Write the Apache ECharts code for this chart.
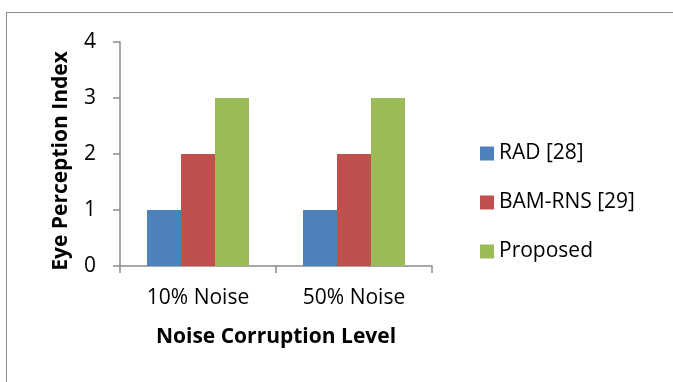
<!DOCTYPE html>
<html>
<head>
<meta charset="utf-8">
<script src="https://cdn.jsdelivr.net/npm/echarts@6/dist/echarts.min.js"></script>
<style>
  html, body { margin: 0; padding: 0; background: #fff; }
  #frame { position: absolute; left: 6px; top: 12px; width: 700px; height: 400px; border: 1px solid #8c8c8c; box-sizing: border-box; }
  #chart { position: absolute; left: 0; top: 0; width: 673px; height: 382px; }
</style>
</head>
<body>
<div id="frame"></div>
<div id="chart"></div>
<script>
const categories = ['10% Noise', '50% Noise'];
const seriesNames = ['RAD [28]', 'BAM-RNS [29]', 'Proposed'];
const radValues = [1, 1];
const bamValues = [2, 2];
const proposedValues = [3, 3];
const yTicks = [0, 1, 2, 3, 4];

const colors = ['#4f81bd', '#c0504d', '#9bbb59'];
const font = '"Open Sans", sans-serif';

const chart = echarts.init(document.getElementById('chart'));
chart.setOption({
  animation: false,
  grid: { left: 120, right: 241, top: 42, bottom: 116 },
  legend: {
    orient: 'vertical',
    left: 475,
    top: 138,
    itemWidth: 14,
    itemHeight: 14,
    itemGap: 28,
    icon: 'rect',
    textStyle: { fontFamily: font, fontSize: 21, color: '#000' },
    data: seriesNames
  },
  xAxis: {
    type: 'category',
    data: categories,
    name: 'Noise Corruption Level',
    nameLocation: 'middle',
    nameGap: 61,
    nameTextStyle: { fontFamily: font, fontSize: 21, fontWeight: 'bold', color: '#000' },
    axisLine: { lineStyle: { color: '#8c8c8c', width: 1.5 } },
    axisTick: { show: true, length: 7, lineStyle: { color: '#8c8c8c', width: 1.5 } },
    axisLabel: { fontFamily: font, fontSize: 21, color: '#000', margin: 22 }
  },
  yAxis: {
    type: 'value',
    min: yTicks[0],
    max: yTicks[yTicks.length - 1],
    interval: 1,
    name: 'Eye Perception Index',
    nameLocation: 'middle',
    nameGap: 48,
    nameTextStyle: { fontFamily: font, fontSize: 21, fontWeight: 'bold', color: '#000', padding: [0, 14, 0, 0] },
    axisLine: { show: true, lineStyle: { color: '#8c8c8c', width: 1.5 } },
    axisTick: { show: true, length: 7, lineStyle: { color: '#8c8c8c', width: 1.5 } },
    splitLine: { show: false },
    axisLabel: { fontFamily: font, fontSize: 21, color: '#000', margin: 24 }
  },
  series: [
    { name: seriesNames[0], type: 'bar', data: radValues, barWidth: 34, barGap: '0%', itemStyle: { color: colors[0] } },
    { name: seriesNames[1], type: 'bar', data: bamValues, barWidth: 34, barGap: '0%', itemStyle: { color: colors[1] } },
    { name: seriesNames[2], type: 'bar', data: proposedValues, barWidth: 34, barGap: '0%', itemStyle: { color: colors[2] } }
  ]
});
</script>
</body>
</html>
